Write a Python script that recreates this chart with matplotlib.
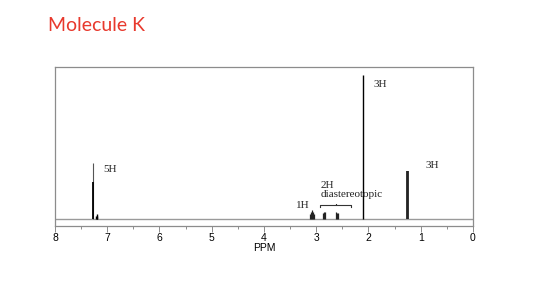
import matplotlib
matplotlib.use("Agg")
import matplotlib.pyplot as plt

# ---- data ----
title = "Molecule K"
xlabel = "PPM"
tick_values = [8, 7, 6, 5, 4, 3, 2, 1, 0]
minor_ticks = [7.5, 6.5, 5.5, 4.5, 3.5, 2.5, 1.5, 0.5]

# peak lines: position (ppm), relative height
aromatic_ppm = [7.27, 7.27, 7.21, 7.20, 7.19]
aromatic_h = [0.368, 0.245, 0.025, 0.035, 0.02]
ch_ppm = [3.12, 3.10, 3.08, 3.06, 3.04]
ch_h = [0.035, 0.05, 0.06, 0.05, 0.035]
ch2_ppm = [2.87, 2.85, 2.83, 2.62, 2.60, 2.58]
ch2_h = [0.045, 0.05, 0.05, 0.05, 0.045, 0.04]
acetyl_ppm = [2.10]
acetyl_h = [0.947]
methyl_ppm = [1.255, 1.245]
methyl_h = [0.32, 0.32]

labels = ["5H", "3H", "3H", "1H", "2H\ndiastereotopic"]
label_x = [6.95, 1.77, 0.78, 3.26, 2.91]
label_y = [0.33, 0.884, 0.357, 0.094, 0.135]

fig = plt.figure(figsize=(5.6, 2.85), dpi=100)
fig.patch.set_facecolor("white")
ax = fig.add_axes([0.0982, 0.207, 0.7464, 0.558])

ax.set_xlim(8, 0)
ax.set_ylim(-0.043, 1.0)

frame_col = "#8c8c8c"
for s in ax.spines.values():
    s.set_color(frame_col)
    s.set_linewidth(0.9)

# baseline
ax.axhline(0, color="#9a9a9a", lw=1.0, zorder=1)

# peaks
ax.vlines(aromatic_ppm[:1], 0, aromatic_h[:1], color="#555555", lw=0.8, zorder=3)
ax.vlines(aromatic_ppm[1:2], 0, aromatic_h[1:2], color="black", lw=1.3, zorder=4)
ax.vlines(aromatic_ppm[2:], 0, aromatic_h[2:], color="black", lw=1.0, zorder=3)
ax.vlines(ch_ppm, 0, ch_h, color="#222222", lw=0.9, zorder=3)
ax.vlines(ch2_ppm, 0, ch2_h, color="#222222", lw=0.9, zorder=3)
ax.vlines(acetyl_ppm, 0, acetyl_h, color="black", lw=1.0, zorder=3)
ax.vlines(methyl_ppm, 0, methyl_h, color="#222222", lw=1.3, zorder=3)

# labels
for t, x, y in zip(labels, label_x, label_y):
    multi = "\n" in t
    ax.text(x, y, t, family="Liberation Serif", fontsize=8.0,
            ha="left" if multi else "center",
            va="bottom" if multi else "center", color="#222222", linespacing=1.05)

# brace for diastereotopic protons
bx0, bx1, by = 2.92, 2.34, 0.094
bm = (bx0 + bx1) / 2
ax.plot([bx0, bx0, bm, bm, bm, bx1, bx1],
        [by - 0.012, by, by, by + 0.01, by, by, by - 0.012],
        color="#333333", lw=0.8)

# ticks
ax.set_xticks(tick_values)
ax.set_xticklabels([str(v) for v in tick_values], family="Liberation Sans", fontsize=7.5)
ax.set_xticks(minor_ticks, minor=True)
ax.tick_params(axis="x", which="major", direction="out", length=4.5, width=0.7,
               color=frame_col, pad=0.5)
ax.tick_params(axis="x", which="minor", direction="out", length=2.5, width=0.7,
               color=frame_col)
ax.set_yticks([])
ax.set_xlabel(xlabel, family="Liberation Sans", fontsize=7.5, labelpad=0.2)

fig.text(0.0857, 0.912, title, family="Lato", fontsize=14, color="#e8392d",
         ha="left", va="center")

fig.savefig("out.png", dpi=100)
